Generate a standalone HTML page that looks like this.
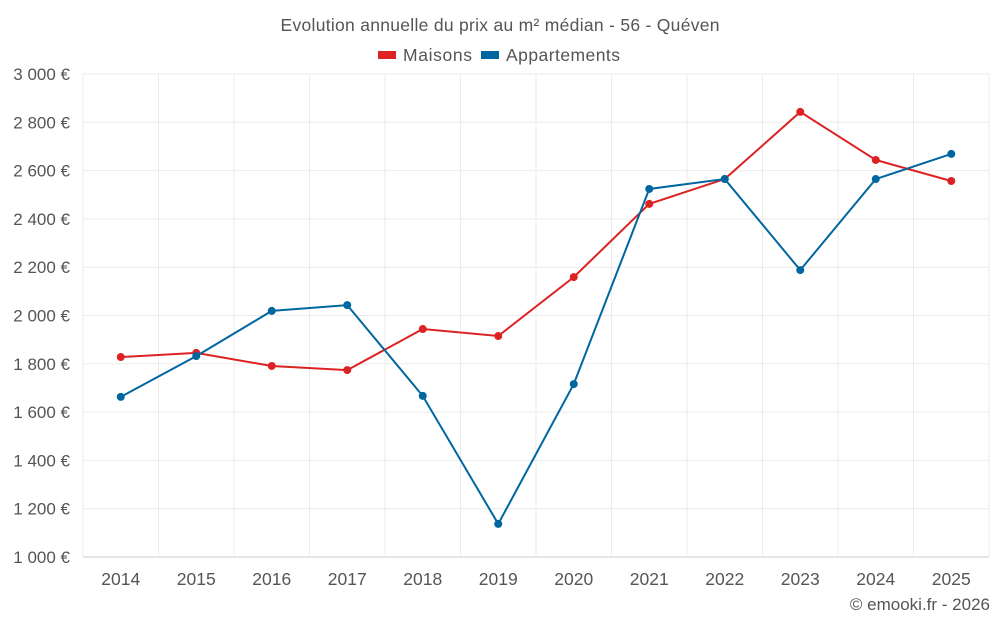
<!DOCTYPE html>
<html><head><meta charset="utf-8"><style>
body{margin:0;background:#fff;font-family:"Liberation Sans",sans-serif}
svg text{font-family:"Liberation Sans",sans-serif}
</style></head><body>
<svg id="c" width="1000" height="625">
<text x="500" y="31" text-anchor="middle" font-size="17.5" fill="#555" textLength="439">Evolution annuelle du prix au m² médian - 56 - Quéven</text>
<g>
<g><rect x="378" y="51" width="18" height="8" fill="#dc2222"/><text x="403" y="61" font-size="17.5" fill="#555" textLength="69">Maisons</text></g>
<g><rect x="481" y="51" width="18" height="8" fill="#0066a0"/><text x="506" y="61" font-size="17.5" fill="#555" textLength="114">Appartements</text></g>
</g>
<g id="grid"></g><g id="axes"></g><g id="series"></g>
<text x="990" y="610" text-anchor="end" font-size="17" fill="#555">© emooki.fr - 2026</text>
</svg>
<script>
const years=["2014","2015","2016","2017","2018","2019","2020","2021","2022","2023","2024","2025"];
const maisons=[1828,1845,1791,1774,1944,1915,2159,2462,2565,2843,2644,2557];
const appartements=[1663,1832,2019,2043,1667,1137,1716,2524,2565,2188,2565,2669];
const yTicks=[1000,1200,1400,1600,1800,2000,2200,2400,2600,2800,3000];
const ns="http://www.w3.org/2000/svg";
const L=83,R=989,T=74,B=557,yMin=1000,yMax=3000;
const bw=(R-L)/years.length;
const xs=i=>L+bw*(i+0.5);
const ys=v=>B-(v-yMin)/(yMax-yMin)*(B-T);
function mk(t,a,p){const e=document.createElementNS(ns,t);for(const k in a)e.setAttribute(k,a[k]);p.appendChild(e);return e;}
const g=document.getElementById('grid'),ax=document.getElementById('axes'),s=document.getElementById('series');
yTicks.forEach(v=>{
 const l=mk('line',{x1:L,x2:R,y1:ys(v),y2:ys(v),stroke:v===yMin?'#ccc':'#ebebeb'},g);
 
 
 const t=mk('text',{x:70,y:ys(v)+6,'text-anchor':'end','font-size':17,fill:'#555'},ax);
 t.textContent=(v>=1000?Math.floor(v/1000)+' '+String(v%1000).padStart(3,'0'):v)+' €';
 
 
});
for(let i=0;i<=years.length;i++){
 const l=mk('line',{x1:L+bw*i,x2:L+bw*i,y1:T,y2:B,stroke:'#ebebeb'},g);
 
 
}
years.forEach((y,i)=>{
 const t=mk('text',{x:xs(i),y:585,'text-anchor':'middle','font-size':17.5,fill:'#555'},ax);
 t.textContent=y;
 
 
});
function draw(data,color,name){
 const p=mk('polyline',{points:data.map((v,i)=>xs(i)+','+ys(v)).join(' '),fill:'none',stroke:color,'stroke-width':2},s);
 
 
 data.forEach((v,i)=>{
  const c=mk('circle',{cx:xs(i),cy:ys(v),r:4,fill:color},s);
  
  
 });
}
draw(maisons,'#dc2222','maisons');
draw(appartements,'#0066a0','appartements');
</script>
</body></html>
